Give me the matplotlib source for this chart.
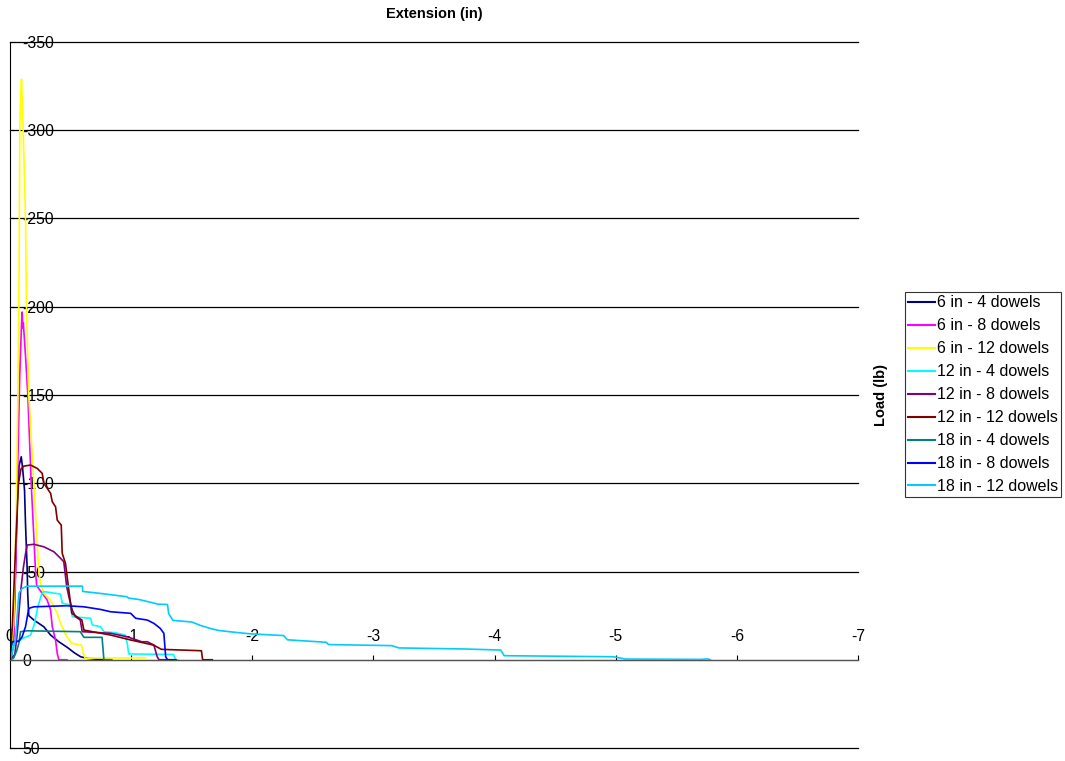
import matplotlib
matplotlib.use("Agg")
import matplotlib.pyplot as plt
from matplotlib.ticker import FixedLocator

plt.rcParams["font.family"] = ["Liberation Sans", "DejaVu Sans"]
plt.rcParams["axes.unicode_minus"] = False

# series data: extension (in) and load (lb), both negative as recorded
ext_6_4 = [0, -0.015, -0.03, -0.045, -0.06, -0.075, -0.093, -0.105, -0.12, -0.128, -0.136, -0.142,
           -0.146, -0.155, -0.197, -0.279, -0.335, -0.403, -0.473, -0.53, -0.583, -0.638, -0.70, -0.75, -0.83]
load_6_4 = [0, -3, -15, -50, -90, -110, -115, -108, -96, -77, -62, -51,
            -38, -25, -22.5, -18.7, -14, -10.2, -7, -4, -1.7, -0.8, -0.4, -0.2, 0]

ext_6_8 = [0, -0.03, -0.05, -0.065, -0.08, -0.095, -0.10, -0.105, -0.11, -0.13, -0.147, -0.175,
           -0.21, -0.22, -0.266, -0.307, -0.335, -0.349, -0.376, -0.39, -0.403, -0.47]
load_6_8 = [0, -10, -60, -113, -160, -190, -197, -188, -191, -170, -150, -100,
            -51, -42, -37.6, -33.8, -28.2, -18.7, -11.2, -3.6, 0, 0]

ext_6_12 = [0, -0.03, -0.05, -0.065, -0.075, -0.081, -0.088, -0.095, -0.109, -0.128, -0.136, -0.155,
            -0.197, -0.238, -0.252, -0.279, -0.335, -0.39, -0.417, -0.444, -0.468, -0.51, -0.59,
            -0.606, -0.62, -0.70, -0.90, -1.12]
load_6_12 = [0, -20, -80, -150, -220, -300, -320, -329, -300, -250, -200, -150,
             -100, -50, -43.3, -37.6, -33.8, -26.3, -20.6, -17, -13, -9.3, -8.3,
             -3.6, -0.8, -1, -1, -1]

ext_12_4 = [0, -0.01, -0.03, -0.073, -0.10, -0.17, -0.2, -0.23, -0.26, -0.276, -0.293, -0.417, -0.431,
            -0.5, -0.514, -0.665, -0.68, -0.748, -0.775, -0.87, -0.95, -0.968, -0.98, -1.35, -1.365, -1.39]
load_12_4 = [0, -5, -9, -10.2, -12, -14, -20, -30, -37, -38.5, -38.5, -37.2, -32,
             -31, -24.4, -23.5, -19.7, -18.7, -15.9, -15.3, -14, -9.3, -3.3, -3, 0, 0]

ext_12_8 = [0, -0.04, -0.06, -0.087, -0.11, -0.128, -0.142, -0.197, -0.279, -0.362, -0.417, -0.444,
            -0.468, -0.486, -0.514, -0.54, -0.58, -0.596, -0.83, -0.968, -1.087, -1.133, -1.188,
            -1.215, -1.23, -1.31]
load_12_8 = [0, -3, -15, -38, -52, -60, -65, -65.4, -64, -61.2, -57.5, -55.5,
             -41.4, -35.7, -28.2, -24.4, -22.5, -15.9, -15, -13, -10.2, -10.2, -8.3,
             -1.7, 0, 0]

ext_12_12 = [0, -0.02, -0.05, -0.07, -0.09, -0.114, -0.17, -0.225, -0.266, -0.279, -0.335, -0.349,
             -0.376, -0.39, -0.423, -0.431, -0.458, -0.482, -0.51, -0.593, -0.61, -0.83, -0.996,
             -1.185, -1.25, -1.58, -1.59, -1.67]
load_12_12 = [0, -20, -70, -100, -108, -109.7, -110.3, -108.4, -105.6, -100, -94.3, -89.5,
              -86.7, -79.1, -76.3, -60.3, -54.6, -41.4, -26.3, -22.5, -16.8, -14, -11.2,
              -8.3, -5.9, -5.1, 0, 0]

ext_18_4 = [0, -0.03, -0.055, -0.073, -0.087, -0.142, -0.58, -0.61, -0.76, -0.775, -0.84]
load_18_4 = [0, -1, -5, -9.3, -15.9, -16.4, -15.9, -12.7, -12.7, 0, 0]

ext_18_8 = [0, -0.005, -0.018, -0.073, -0.1, -0.128, -0.155, -0.197, -0.468, -0.61, -0.748, -0.83,
            -0.996, -1.037, -1.133, -1.188, -1.24, -1.27, -1.285, -1.3, -1.37]
load_18_8 = [0, -6, -10.2, -10.6, -13, -18.7, -29.1, -30, -30.6, -30, -28.5, -27.2,
             -26.3, -23.5, -22.5, -20.6, -17.8, -15, -1.7, 0, 0]

ext_18_12 = [0, -0.018, -0.045, -0.073, -0.1, -0.142, -0.598, -0.6, -0.744, -0.965, -0.98, -1.06,
             -1.20, -1.22, -1.30, -1.31, -1.345, -1.50, -1.57, -1.66, -1.72, -1.85, -1.98, -2.26,
             -2.29, -2.61, -2.63, -3.15, -3.21, -3.75, -4.05, -4.08, -4.98, -5.08, -5.70, -5.76, -5.78]
load_18_12 = [0, -3.6, -11.2, -37.6, -40.4, -41.7, -41.7, -38.7, -37.6, -35.7, -34.9, -34.2,
              -31.9, -31.5, -31.3, -26.1, -22.3, -21.4, -19.5, -17.6, -16.6, -15.6, -14.7, -13.7,
              -11.3, -9.9, -8.6, -8.0, -6.7, -6.1, -5.5, -2.3, -1.7, -0.4, -0.2, -0.5, 0]

series = [
    ("6 in - 4 dowels", ext_6_4, load_6_4, "#000080"),
    ("6 in - 8 dowels", ext_6_8, load_6_8, "#FF00FF"),
    ("6 in - 12 dowels", ext_6_12, load_6_12, "#FFFF00"),
    ("12 in - 4 dowels", ext_12_4, load_12_4, "#00FFFF"),
    ("12 in - 8 dowels", ext_12_8, load_12_8, "#800080"),
    ("12 in - 12 dowels", ext_12_12, load_12_12, "#800000"),
    ("18 in - 4 dowels", ext_18_4, load_18_4, "#008080"),
    ("18 in - 8 dowels", ext_18_8, load_18_8, "#0000FF"),
    ("18 in - 12 dowels", ext_18_12, load_18_12, "#00CCFF"),
]

x_ticks = [0, -1, -2, -3, -4, -5, -6, -7]
y_ticks = [-350, -300, -250, -200, -150, -100, -50, 0, 50]

W, H = 1065, 761
fig = plt.figure(figsize=(W / 100, H / 100), dpi=100)
ax = fig.add_axes([10 / W, 1 - 748 / H, 848 / W, 706 / H])

for label, xs, ys, color in series:
    ax.plot(xs, ys, color=color, lw=1.2, label=label)

ax.set_xlim(0, -7)
ax.set_ylim(50, -350)

# horizontal gridlines, no vertical ones
ax.yaxis.set_major_locator(FixedLocator(y_ticks))
ax.set_yticklabels([str(v) for v in y_ticks])
ax.yaxis.grid(True, color="black", lw=0.9)
ax.set_axisbelow(True)
for gl in ax.get_ygridlines():
    gl.set_clip_on(False)

# x axis drawn at load = 0, labels above it
ax.xaxis.set_major_locator(FixedLocator(x_ticks))
ax.set_xticklabels([str(v) for v in x_ticks])
ax.spines["top"].set_position(("data", 0))
ax.spines["top"].set_color("#555555")
ax.spines["bottom"].set_visible(False)
ax.spines["right"].set_visible(False)
ax.xaxis.tick_top()
ax.tick_params(axis="x", direction="out", length=3.6, width=0.8, pad=8.0,
               labelsize=11.3, colors="black")

ax.tick_params(axis="y", direction="in", length=3, width=0.8, pad=-8.6, labelsize=11.3)
for t in ax.get_yticklabels():
    t.set_horizontalalignment("left")

ax.text(0.5, 1.04, "Extension (in)", transform=ax.transAxes, ha="center", va="center",
        fontsize=10.5, fontweight="bold")
ax.text(1.027, 0.5, "Load (lb)", transform=ax.transAxes, ha="center", va="center",
        rotation=90, fontsize=10.5, fontweight="bold")

leg = ax.legend(loc="upper left", bbox_to_anchor=(905 / W, 1 - 292 / H),
                bbox_transform=fig.transFigure, borderaxespad=0, fontsize=11.5,
                frameon=True, fancybox=False, handlelength=1.7, handletextpad=0.1,
                labelspacing=0.5, borderpad=0.2)
leg.get_frame().set_edgecolor("black")
leg.get_frame().set_linewidth(0.8)
for ln in leg.get_lines():
    ln.set_linewidth(1.5)

fig.savefig("out.png", dpi=100)
